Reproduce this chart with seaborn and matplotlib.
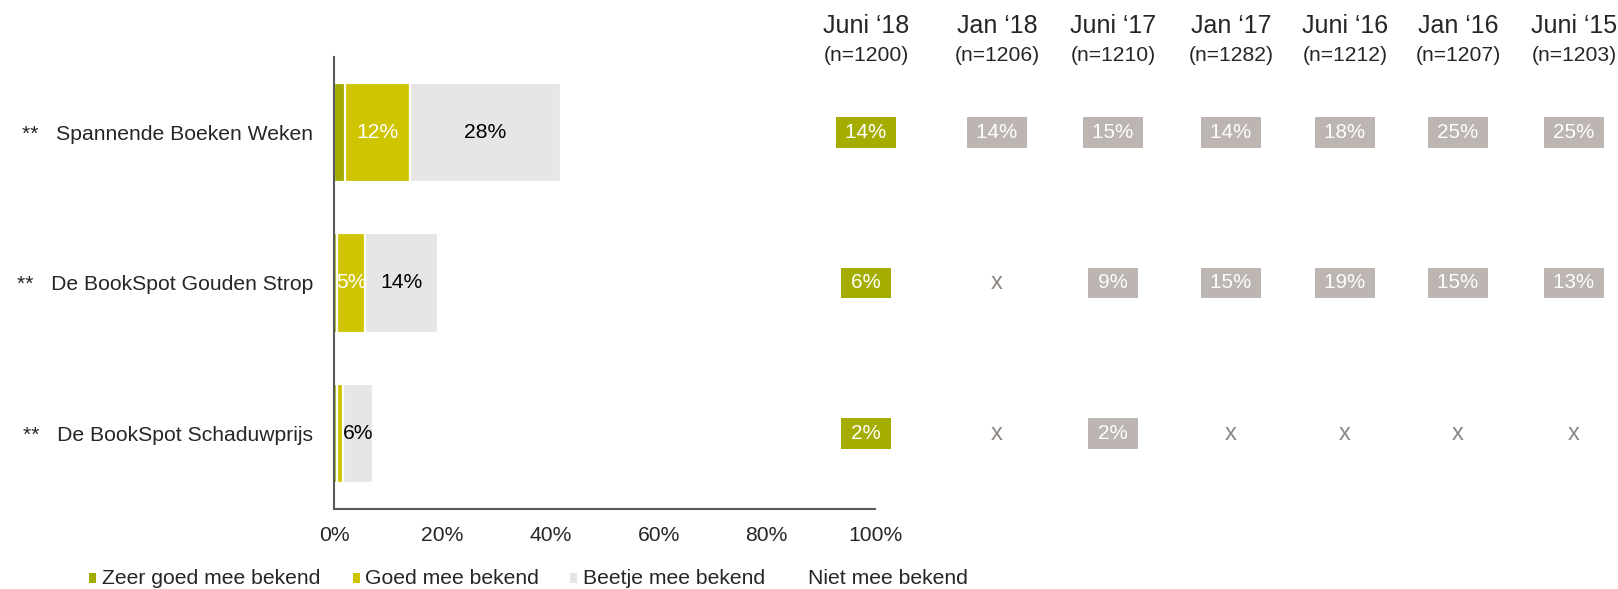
import numpy as np
import pandas as pd
import matplotlib
matplotlib.use("Agg")
import matplotlib.pyplot as plt
import matplotlib.transforms as mtransforms
from matplotlib.patches import Rectangle
import seaborn as sns

# ---------------- data ----------------
categories = ["Spannende Boeken Weken", "De BookSpot Gouden Strop", "De BookSpot Schaduwprijs"]
zeer_goed = [2.0, 0.6, 0.5]
goed = [12.0, 5.1, 1.2]
beetje = [28.0, 13.6, 5.5]
series_names = ["Zeer goed mee bekend", "Goed mee bekend", "Beetje mee bekend", "Niet mee bekend"]

periods = ["Juni \u201818", "Jan \u201818", "Juni \u201817", "Jan \u201817", "Juni \u201816", "Jan \u201816", "Juni \u201815"]
n_sizes = [1200, 1206, 1210, 1282, 1212, 1207, 1203]
# top-2 box per period (None = not measured)
trend = [
    [14, 14, 15, 14, 18, 25, 25],
    [6, None, 9, 15, 19, 15, 13],
    [2, None, 2, None, None, None, None],
]
x_ticks = [0, 20, 40, 60, 80, 100]

# ---------------- style ----------------
sns.set_style("white")
plt.rcParams["font.family"] = ["Liberation Sans", "DejaVu Sans"]

c_zeer = "#a3ad00"
c_goed = "#cfc400"
c_beetje = "#e8e6e4"
c_niet = "#ffffff"
c_box_now = "#a5ae00"
c_box_old = "#bcb5b1"
c_x = "#8c8683"
spine_c = "#595959"
FS = 15.2

W, H = 1618, 589
fig = plt.figure(figsize=(W / 100, H / 100), dpi=100)
ax_rect = [334 / W, 1 - 509 / H, 541 / W, (509 - 57) / H]
ax = fig.add_axes(ax_rect)

df = pd.DataFrame({"cat": categories, "zeer": zeer_goed, "goed": goed, "beetje": beetje})
df["c1"] = df["zeer"]
df["c2"] = df["c1"] + df["goed"]
df["c3"] = df["c2"] + df["beetje"]
df["c4"] = 100.0

for col, colr in [("c4", c_niet), ("c3", c_beetje), ("c2", c_goed), ("c1", c_zeer)]:
    sns.barplot(data=df, y="cat", x=col, orient="h", color=colr, saturation=1,
                width=0.66, edgecolor="white", linewidth=1.6, ax=ax, errorbar=None)

# segment labels
for i, row in df.iterrows():
    if row["goed"] >= 3:
        ax.text((row["c1"] + row["c2"]) / 2, i, f"{round(row['goed'])}%", ha="center", va="center",
                color="white", fontsize=FS)
    if row["beetje"] >= 3:
        ax.text((row["c2"] + row["c3"]) / 2, i, f"{round(row['beetje'])}%", ha="center", va="center",
                color="black", fontsize=FS)

ax.set_xlim(0, 100)
ax.set_ylim(2.5, -0.5)
ax.set_xticks(x_ticks)
ax.set_xticklabels([f"{t}%" for t in x_ticks], fontsize=FS)
ax.set_yticks(range(len(categories)))
ax.set_yticklabels(["**   " + c for c in categories], fontsize=FS)
ax.set_yticks([-0.5, 0.5, 1.5, 2.5], minor=True)
ax.tick_params(axis="y", which="major", length=0, pad=15)
ax.tick_params(axis="y", which="minor", length=7, width=1.5, color=spine_c, direction="out")
ax.tick_params(axis="x", which="major", length=7, width=1.5, color=spine_c, direction="out", pad=5)
ax.set_xlabel("")
ax.set_ylabel("")
for s in ["top", "right"]:
    ax.spines[s].set_visible(False)
for s in ["left", "bottom"]:
    ax.spines[s].set_color(spine_c)
    ax.spines[s].set_linewidth(1.5)

# ---------------- trend table ----------------
# layout: column centres in figure pixels; rows share the bar axis' y scale
col_x_px = [866, 997, 1113, 1231, 1345, 1458, 1574]
trans = mtransforms.blended_transform_factory(fig.transFigure, ax.transData)
for j, (p, n) in enumerate(zip(periods, n_sizes)):
    xf = col_x_px[j] / W
    fig.text(xf, -0.705, p, ha="center", va="center", fontsize=18, transform=trans)
    fig.text(xf, -0.513, f"(n={n})", ha="center", va="center", fontsize=FS, transform=trans)
for i, vals in enumerate(trend):
    for j, v in enumerate(vals):
        xf = col_x_px[j] / W
        if v is None:
            fig.text(xf, i, "x", ha="center", va="center", fontsize=17, color=c_x, transform=trans)
        else:
            fc = c_box_now if j == 0 else c_box_old
            fig.text(xf, i, f"\u2009{v}%\u2009", ha="center", va="center", fontsize=14.8, color="white",
                     transform=trans,
                     bbox=dict(boxstyle="square,pad=0.28", facecolor=fc, edgecolor="none"))

# ---------------- legend (manual) ----------------
leg_colors = [c_zeer, c_goed, c_beetje, c_niet]
sq_x = [89, 353, 570, 795]
txt_x = [102, 365, 583, 808]
leg_y = 578
for name, colr, sx, tx in zip(series_names, leg_colors, sq_x, txt_x):
    fig.add_artist(Rectangle((sx / W, 1 - 583 / H), 7 / W, 10 / H, transform=fig.transFigure,
                             facecolor=colr, edgecolor="none"))
    fig.text(tx / W, 1 - leg_y / H, name, ha="left", va="center", fontsize=FS)

fig.savefig("out.png", dpi=100)
